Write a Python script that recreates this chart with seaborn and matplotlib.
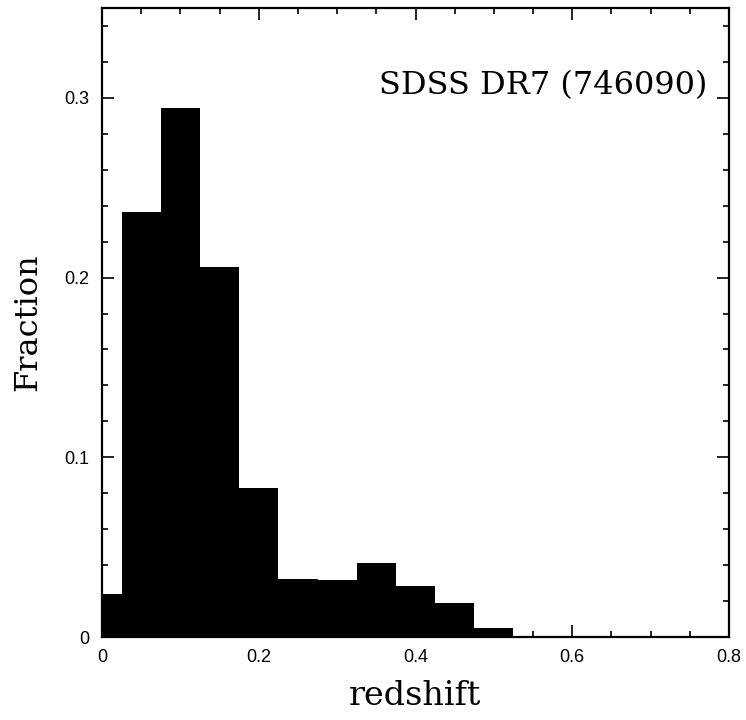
import numpy as np
import pandas as pd
import matplotlib
matplotlib.use("Agg")
import matplotlib.pyplot as plt
import seaborn as sns
from matplotlib.ticker import MultipleLocator, FixedLocator

# Histogram bin centres (redshift) and fractions
bin_centers = [0.00, 0.05, 0.10, 0.15, 0.20, 0.25, 0.30, 0.35, 0.40, 0.45, 0.50, 0.55, 0.60, 0.65, 0.70, 0.75, 0.80]
fractions   = [0.024, 0.2365, 0.2945, 0.206, 0.083, 0.032, 0.0315, 0.041, 0.0285, 0.019, 0.0052, 0.0, 0.0, 0.0, 0.0, 0.0, 0.0]
bin_edges = [-0.025 + 0.05 * i for i in range(len(bin_centers) + 1)]
x_ticks = [0, 0.2, 0.4, 0.6, 0.8]
x_tick_labels = ["0", "0.2", "0.4", "0.6", "0.8"]
y_ticks = [0, 0.1, 0.2, 0.3]
y_tick_labels = ["0", "0.1", "0.2", "0.3"]
annotation = "SDSS DR7 (746090)"

df = pd.DataFrame({"redshift": bin_centers, "fraction": fractions})

sns.set_style("ticks")
plt.rcParams["font.family"] = ["DejaVu Sans"]
plt.rcParams["text.color"] = "black"
plt.rcParams["axes.labelcolor"] = "black"

fig = plt.figure(figsize=(7.46, 7.2), dpi=100)
ax = fig.add_axes([102 / 746, 1 - 637 / 720, (729 - 102) / 746, (637 - 8) / 720])

sns.histplot(data=df, x="redshift", weights="fraction", bins=bin_edges,
             color="black", edgecolor="none", alpha=1, linewidth=0, ax=ax)

ax.set_xlim(0, 0.8)
ax.set_ylim(0, 0.35)

ax.xaxis.set_major_locator(FixedLocator(x_ticks))
ax.set_xticklabels(x_tick_labels)
ax.xaxis.set_minor_locator(MultipleLocator(0.05))
ax.yaxis.set_major_locator(FixedLocator(y_ticks))
ax.set_yticklabels(y_tick_labels)
ax.yaxis.set_minor_locator(MultipleLocator(0.02))

ax.tick_params(which="both", direction="in", top=True, right=True, width=1.2,
               labelsize=13, colors="black")
ax.tick_params(which="major", length=8.5, pad=9)
ax.tick_params(which="minor", length=4)
for lab in ax.get_xticklabels() + ax.get_yticklabels():
    lab.set_family("Liberation Sans")

for s in ax.spines.values():
    s.set_linewidth(1.6)
    s.set_color("black")

ax.set_xlabel("redshift", family="DejaVu Serif", fontsize=24, labelpad=10, color="black")
ax.set_ylabel("Fraction", family="DejaVu Serif", fontsize=23, color="black")
ax.yaxis.set_label_coords(-0.094, 0.5)

ax.text(0.965, 0.877, annotation, transform=ax.transAxes, ha="right", va="center",
        family="DejaVu Serif", fontsize=23, color="black")

fig.savefig("out.png", dpi=100)
